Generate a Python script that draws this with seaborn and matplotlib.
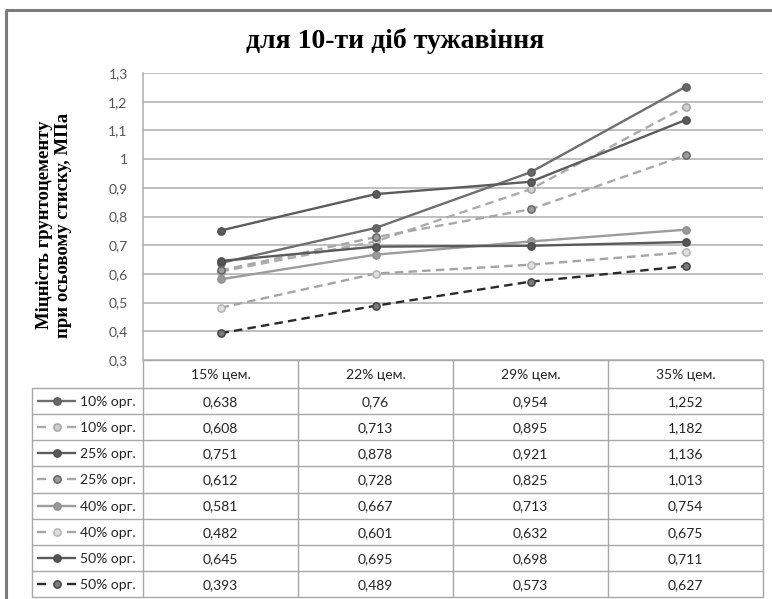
import matplotlib
matplotlib.use("Agg")
import matplotlib.pyplot as plt
import seaborn as sns
import pandas as pd

# ---------------- data ----------------
categories = ["15% цем.", "22% цем.", "29% цем.", "35% цем."]
series_names = ["10% орг.", "10% орг.", "25% орг.", "25% орг.",
                "40% орг.", "40% орг.", "50% орг.", "50% орг."]
s10_solid = [0.638, 0.76, 0.954, 1.252]
s10_dash = [0.608, 0.713, 0.895, 1.182]
s25_solid = [0.751, 0.878, 0.921, 1.136]
s25_dash = [0.612, 0.728, 0.825, 1.013]
s40_solid = [0.581, 0.667, 0.713, 0.754]
s40_dash = [0.482, 0.601, 0.632, 0.675]
s50_solid = [0.645, 0.695, 0.698, 0.711]
s50_dash = [0.393, 0.489, 0.573, 0.627]
all_values = [s10_solid, s10_dash, s25_solid, s25_dash,
              s40_solid, s40_dash, s50_solid, s50_dash]
y_ticks = [0.3, 0.4, 0.5, 0.6, 0.7, 0.8, 0.9, 1.0, 1.1, 1.2, 1.3]
title = "для 10-ти діб тужавіння"
ylabel = "Міцність грунтоцементу\nпри осьовому стиску, МПа"

# styles: (line colour, dashed, marker face, marker edge)
styles = [
    ("#6e6e6e", False, "#686868", "#5e5e5e"),
    ("#ababab", True, "#cfcfcf", "#a4a4a4"),
    ("#5c5c5c", False, "#5a5a5a", "#505050"),
    ("#a8a8a8", True, "#9c9c9c", "#666666"),
    ("#9c9c9c", False, "#9a9a9a", "#929292"),
    ("#a4a4a4", True, "#dedede", "#b4b4b4"),
    ("#5a5a5a", False, "#565656", "#4c4c4c"),
    ("#2a2a2a", True, "#7a7a7a", "#444444"),
]

sns.set_theme(style="white")
plt.rcParams['font.family'] = ['Lato', 'DejaVu Sans']

W, H = 772, 599
fig = plt.figure(figsize=(W / 100, H / 100), dpi=100)
fig.patch.set_facecolor("white")

# plot area in pixel coords
px0, px1, py0, py1 = 143, 763, 73, 360
ax = fig.add_axes([px0 / W, 1 - py1 / H, (px1 - px0) / W, (py1 - py0) / H])

for name, vals, (lc, dashed, mf, me) in zip(series_names, all_values, styles):
    df = pd.DataFrame({"cem": categories, "val": vals})
    sns.lineplot(data=df, x="cem", y="val", ax=ax, color=lc, linewidth=1.7,
                 marker="o", markersize=5.2, markerfacecolor=mf,
                 markeredgecolor=me, markeredgewidth=1.1, sort=False)
    line = ax.lines[-1]
    if dashed:
        line.set_linestyle((0, (3.6, 2.2)))

ax.set_xlim(-0.5, len(categories) - 0.5)
ax.set_ylim(min(y_ticks), max(y_ticks))
ax.set_yticks(y_ticks)
ax.set_yticklabels([f"{t:g}".replace(".", ",") for t in y_ticks])
ax.set_xticks([])
ax.set_xlabel("")
ax.set_ylabel("")
ax.tick_params(axis="y", length=0, pad=11, labelsize=10, labelcolor="#555555")
for lab in ax.get_yticklabels():
    lab.set_fontfamily(["Lato", "DejaVu Sans"])
ax.grid(axis="y", color="#b4b4b4", linewidth=1.2)
ax.set_axisbelow(True)
for s in ["top", "right", "bottom"]:
    ax.spines[s].set_visible(False)
ax.spines["left"].set_color("#b4b4b4")
ax.spines["left"].set_linewidth(1.2)

# overlay for table, title, border
ov = fig.add_axes([0, 0, 1, 1], zorder=-1)
ov.set_xlim(0, W)
ov.set_ylim(H, 0)
ov.axis("off")

# border
ov.plot([5, W], [10, 10], color="#7c7c7c", lw=2.2, solid_capstyle="butt")
ov.plot([6, 6], [10, H], color="#7c7c7c", lw=2.2, solid_capstyle="butt")

# title
fig.text(395 / W, 1 - 41 / H, title, ha="center", va="center",
         fontsize=20, fontweight="bold", family=["Liberation Serif", "DejaVu Serif"],
         color="#000000")
# y label
fig.text(54 / W, 1 - 225 / H, ylabel, ha="center", va="center", rotation=90,
         fontsize=13.5, fontweight="bold", family=["Liberation Serif", "DejaVu Serif"],
         linespacing=1.2, color="#000000")

# table
tcol = "#a8a8a8"
tx0 = 32
col_edges = [px0 + i * (px1 - px0) / len(categories) for i in range(len(categories) + 1)]
hy0, hy1 = py1, 388
ty_end = 597
row_h = (ty_end - hy1) / len(series_names)
row_edges = [hy1 + i * row_h for i in range(len(series_names) + 1)]

ov.plot([px0, px1], [hy0, hy0], color=tcol, lw=1.0)
for r in row_edges:
    ov.plot([tx0, px1], [r, r], color=tcol, lw=1.0)
for c in col_edges:
    ov.plot([c, c], [hy0, ty_end], color=tcol, lw=1.0)
ov.plot([tx0, tx0], [hy1, ty_end], color=tcol, lw=1.0)

txt_kw = dict(ha="center", va="center", fontsize=10, color="#222222",
              family=["Lato", "DejaVu Sans"])
for i, c in enumerate(categories):
    ov.text((col_edges[i] + col_edges[i + 1]) / 2, (hy0 + hy1) / 2 + 1, c, **txt_kw)

for r, (name, vals, (lc, dashed, mf, me)) in enumerate(zip(series_names, all_values, styles)):
    yc = (row_edges[r] + row_edges[r + 1]) / 2
    for i, v in enumerate(vals):
        ov.text((col_edges[i] + col_edges[i + 1]) / 2, yc + 1,
                str(v).replace(".", ","), **txt_kw)
    # legend key
    if dashed:
        ov.plot([37, 46], [yc, yc], color=lc, lw=1.7, solid_capstyle="butt")
        ov.plot([67, 76], [yc, yc], color=lc, lw=1.7, solid_capstyle="butt")
    else:
        ov.plot([37, 76], [yc, yc], color=lc, lw=1.7, solid_capstyle="butt")
    ov.plot([56.5], [yc], marker="o", markersize=5.2, markerfacecolor=mf,
            markeredgecolor=me, markeredgewidth=1.1, linestyle="none")
    ov.text(80, yc + 1, name, ha="left", va="center", fontsize=10,
            color="#222222", family=["Lato", "DejaVu Sans"])

fig.savefig("out.png", dpi=100, facecolor="white")
